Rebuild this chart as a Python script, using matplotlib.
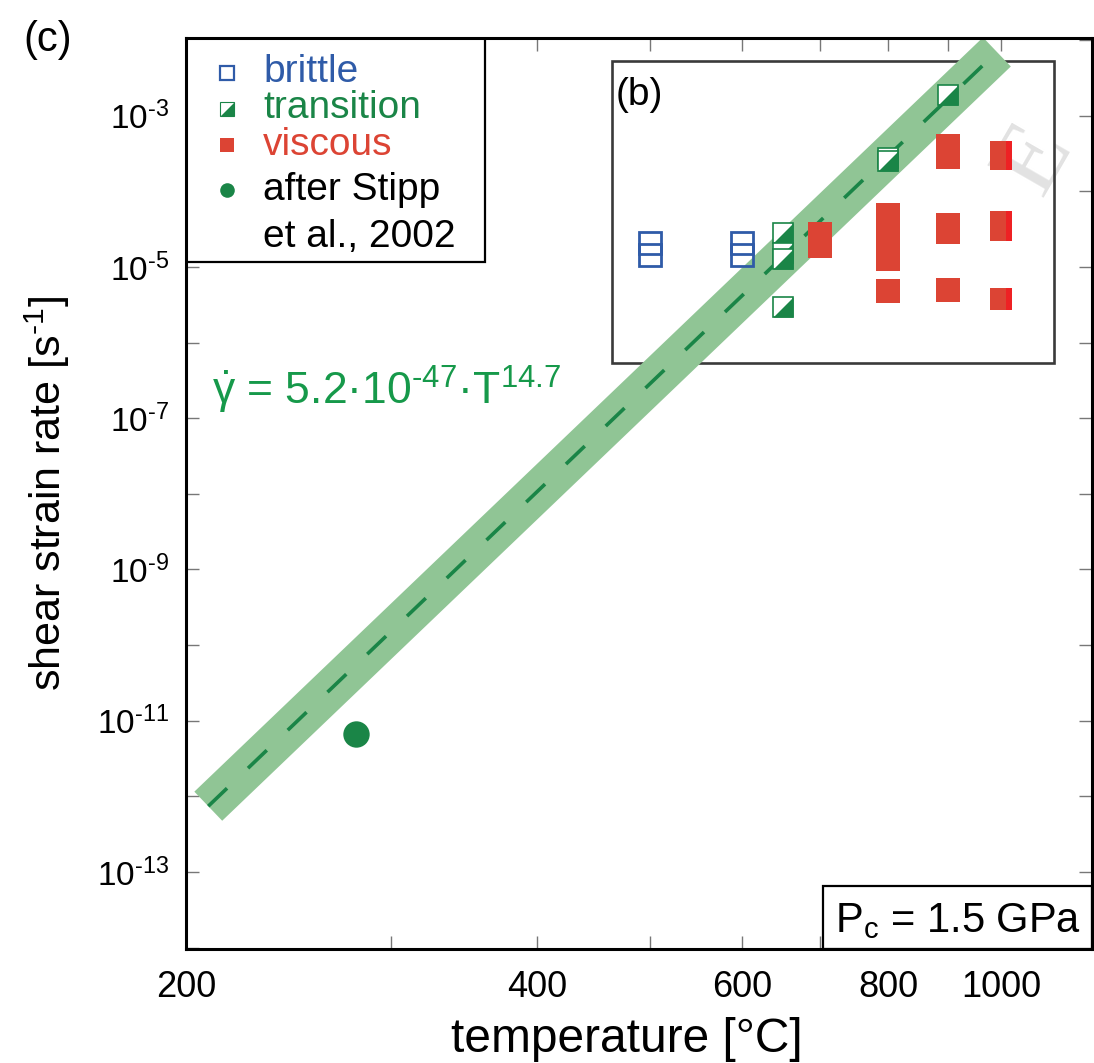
import numpy as np
import matplotlib
matplotlib.use("Agg")
import matplotlib.pyplot as plt
from matplotlib.patches import Rectangle
from matplotlib.ticker import NullLocator

plt.rcParams["font.family"] = ["Liberation Sans", "DejaVu Sans"]
plt.rcParams["mathtext.fontset"] = "custom"
plt.rcParams["mathtext.rm"] = "Liberation Sans"
plt.rcParams["mathtext.it"] = "Liberation Sans"
plt.rcParams["mathtext.bf"] = "Liberation Sans:bold"
plt.rcParams["lines.scale_dashes"] = False

# data (temperature in degC, shear strain rate in 1/s)
brittle_T = [500, 500, 600, 600]
brittle_rate = [2.07e-5, 1.44e-5, 2.07e-5, 1.44e-5]

trans_T = [650, 650, 650, 650, 800, 800, 900]
trans_rate = [2.83e-5, 1.52e-5, 1.28e-5, 2.98e-6, 2.78e-4, 2.54e-4, 1.9e-3]

visc_T = [700, 700, 800, 800, 800, 800, 900, 900, 900, 900, 900]
visc_rate = [2.73e-5, 1.87e-5, 4.9e-5, 2.5e-5, 1.28e-5, 4.8e-6,
             4.0e-4, 2.87e-4, 3.56e-5, 2.92e-5, 4.92e-6]
visc1000_T = [1000, 1000, 1000, 1000, 1000]
visc1000_rate = [3.34e-4, 2.7e-4, 3.96e-5, 3.1e-5, 3.74e-6]

stipp_T = [280]
stipp_rate = [6.7e-12]

fit_T = [209, 992]
fit_rate = [7.4e-13, 7.0e-3]

xticks = [200, 300, 400, 500, 600, 700, 800, 900, 1000]
xticklabels = ["200", "", "400", "", "600", "", "800", "", "1000"]
yexp = list(range(-14, -1))
yticklabels = [r"$10^{\text{-}%d}$" % -e if e % 2 else "" for e in yexp]

BLUE = "#2f5ba8"
GREEN = "#1a8547"
EQGREEN = "#16994a"
RED = "#dc4434"
PURERED = "#ee2124"
BAND = "#90c595"
TRI = [(-1, -1), (1, -1), (1, 1), (-1, -1)]
LEFTPART = [(-1, -1), (0.45, -1), (0.45, 1), (-1, 1), (-1, -1)]


def transition(ax, x, y, ms, mew=1.2, zorder=5, **kw):
    ax.plot(x, y, "s", ms=ms, mfc="white", mec=GREEN, mew=mew, zorder=zorder, **kw)
    ax.plot(x, y, marker=TRI, ms=ms, color=GREEN, mew=0, ls="none", zorder=zorder, **kw)


fig = plt.figure(figsize=(10.94, 10.63), dpi=100)
ax = fig.add_axes([0.170, 0.1072, 0.8282, 0.8571])
ax.set_facecolor("none")
ax.set_xscale("log")
ax.set_yscale("log")
ax.set_xlim(200, 1197)
ax.set_ylim(10 ** -14.02, 10 ** -1.97)

# fit band and dashed line
ax.plot(fit_T, fit_rate, color=BAND, lw=29, solid_capstyle="butt", zorder=2)
ax.plot(fit_T, fit_rate, color=GREEN, lw=2.6, dashes=(18.7, 20.9), zorder=3)

# inset frame (b)
ax.add_patch(Rectangle((0.470, 0.6436), 0.488, 0.3314, transform=ax.transAxes,
                       fill=False, ec="#3a3a3a", lw=1.9, zorder=1))
ax.text(0.4746, 0.937, "(b)", transform=ax.transAxes, fontsize=28,
        ha="left", va="center", zorder=7)

# samples
ax.plot(brittle_T, brittle_rate, "s", ms=16.5, mfc="none", mec=BLUE, mew=2, zorder=4)
for t, r in zip(trans_T, trans_rate):
    transition(ax, t, r, 14.6)
ax.plot(visc_T, visc_rate, "s", ms=16.6, color=RED, mew=0, zorder=4)
ax.plot(visc1000_T, visc1000_rate, "s", ms=16.2, color=PURERED, mew=0, zorder=4)
ax.plot(visc1000_T, visc1000_rate, marker=LEFTPART, ms=16.2, color=RED, mew=0,
        ls="none", zorder=4)
ax.plot(stipp_T, stipp_rate, "o", ms=19, color=GREEN, mew=0, zorder=4)

ax.text(0.0287, 0.597, "$\\dot{\\gamma}$ = 5.2\u00b710$^{\\text{-}47}$\u00b7T$^{14.7}$",
        transform=ax.transAxes, fontsize=32, color=EQGREEN, ha="left", va="baseline")

# legend box
ax.add_patch(Rectangle((0, 0.754), 0.330, 0.246, transform=ax.transAxes,
                       fc="white", ec="black", lw=1.6, zorder=6))
tr = ax.transAxes
ax.plot(0.0453, 0.962, "s", ms=10, mfc="white", mec=BLUE, mew=1.6, transform=tr, zorder=7)
transition(ax, 0.0453, 0.922, 10, mew=0.8, zorder=7, transform=tr)
ax.plot(0.0453, 0.882, "s", ms=10.5, color=RED, mew=0, transform=tr, zorder=7)
ax.plot(0.0453, 0.833, "o", ms=10.5, color=GREEN, mew=0, transform=tr, zorder=7)
for y, s, c in [(0.952, "brittle", BLUE), (0.912, "transition", GREEN),
                (0.871, "viscous", RED), (0.822, "after Stipp", "black"),
                (0.771, "et al., 2002", "black")]:
    ax.text(0.085, y, s, transform=tr, fontsize=28, color=c, ha="left",
            va="baseline", zorder=7)

# pressure box
ax.add_patch(Rectangle((0.703, 0), 0.297, 0.069, transform=tr, fc="white",
                       ec="black", lw=1.6, zorder=6))
ax.text(0.8526, 0.019, r"P$_{\text{c}}$ = 1.5 GPa", transform=tr, fontsize=30,
        ha="center", va="baseline", zorder=7)

# axes styling
ax.set_xticks(xticks, labels=xticklabels)
ax.set_yticks([10.0 ** e for e in yexp], labels=yticklabels)
ax.xaxis.set_minor_locator(NullLocator())
ax.yaxis.set_minor_locator(NullLocator())
ax.tick_params(which="both", direction="in", top=True, right=True, length=9.5,
               width=1, color="#777777")
ax.tick_params(axis="x", labelsize=26, pad=15)
ax.tick_params(axis="y", labelsize=24, pad=12)
for sp in ax.spines.values():
    sp.set_linewidth(2.2)
    sp.set_zorder(8)

ax.set_xlabel("temperature [°C]", fontsize=34.5)
ax.xaxis.set_label_coords(0.486, -0.113, transform=ax.transAxes)
ax.xaxis.label.set_va("baseline")
ax.set_ylabel(r"shear strain rate [s$^{\text{-1}}$]", fontsize=31, labelpad=18)

fig.text(0.044, 0.962, "(c)", fontsize=30, ha="center", va="center")
fig.text(1036 / 1094, 1 - 160 / 1063, "E", rotation=60, fontsize=72,
         family="Liberation Serif", color="#e2e2e2", ha="center", va="center",
         zorder=-1)

fig.savefig("out.png", dpi=100)
